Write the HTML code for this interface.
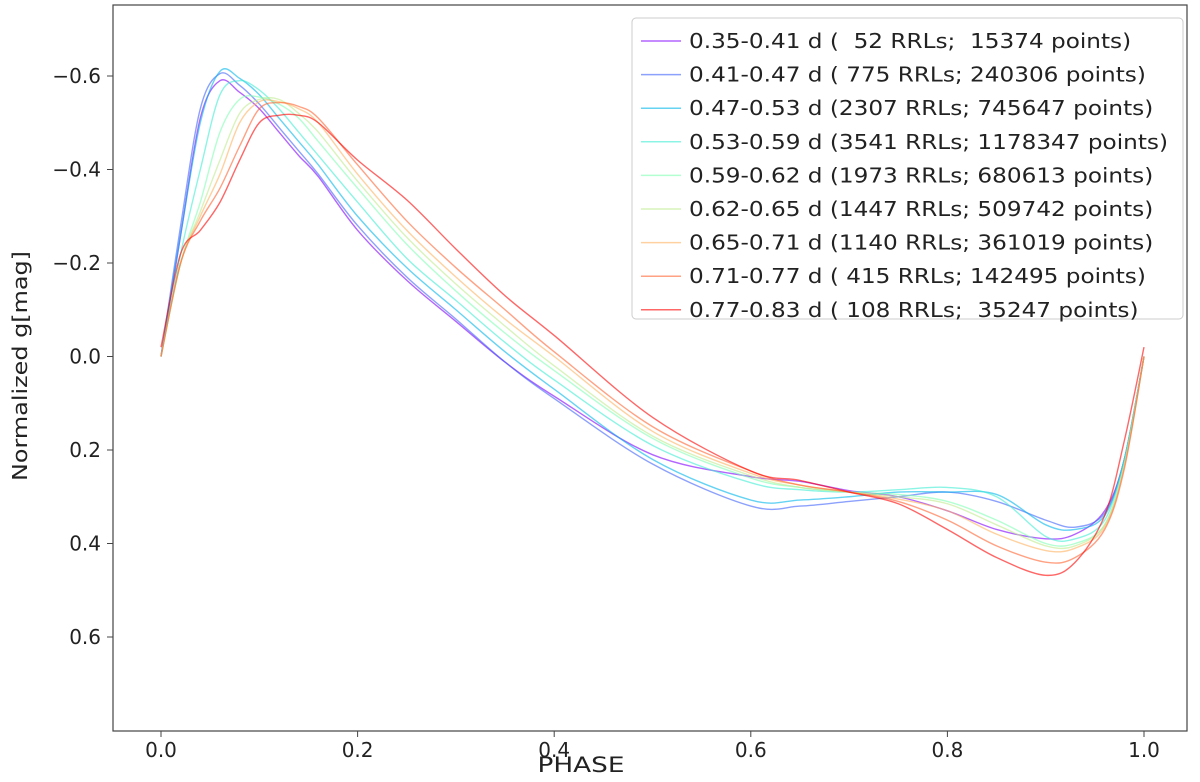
<!DOCTYPE html>
<html><head><meta charset="utf-8"><style>
body{margin:0;background:#fff;}
svg text{font-family:"DejaVu Sans","Liberation Sans",sans-serif;fill:#222;}
</style></head><body>
<svg id="chart" width="1200" height="777" xmlns="http://www.w3.org/2000/svg">
<rect x="113" y="5" width="1074" height="726" fill="#fff" stroke="#444" stroke-width="1.2"/>
<g id="ticks"></g><g id="lines"></g><g id="legend"></g>
<text x="581" y="772" font-size="21" text-anchor="middle" textLength="87" lengthAdjust="spacingAndGlyphs">PHASE</text>
<text transform="translate(27,366) rotate(-90)" font-size="20" text-anchor="middle" textLength="230" lengthAdjust="spacingAndGlyphs">Normalized g[mag]</text>
</svg>
<script>
const seriesLabels=["0.35-0.41 d (  52 RRLs;  15374 points)","0.41-0.47 d ( 775 RRLs; 240306 points)","0.47-0.53 d (2307 RRLs; 745647 points)","0.53-0.59 d (3541 RRLs; 1178347 points)","0.59-0.62 d (1973 RRLs; 680613 points)","0.62-0.65 d (1447 RRLs; 509742 points)","0.65-0.71 d (1140 RRLs; 361019 points)","0.71-0.77 d ( 415 RRLs; 142495 points)","0.77-0.83 d ( 108 RRLs;  35247 points)"];
const seriesColors=["#8000ff","#4062fa","#00b5eb","#40ecd4","#80ffb4","#c0eb8d","#ffb360","#ff6230","#ff0000"];
const phases=[0,0.02,0.04,0.06,0.08,0.1,0.12,0.14,0.16,0.2,0.25,0.3,0.35,0.4,0.5,0.6,0.65,0.7,0.75,0.8,0.85,0.9,0.93,0.96,0.98,1.0];
const s0=[0,-0.26,-0.51,-0.59,-0.565,-0.53,-0.48,-0.43,-0.385,-0.27,-0.163,-0.075,0.012,0.085,0.21,0.257,0.267,0.287,0.3,0.33,0.37,0.39,0.38,0.33,0.22,0];
const s1=[0,-0.28,-0.53,-0.605,-0.58,-0.54,-0.49,-0.44,-0.39,-0.28,-0.17,-0.08,0.012,0.09,0.23,0.32,0.32,0.31,0.3,0.29,0.31,0.35,0.365,0.335,0.22,0];
const s2=[0,-0.26,-0.5,-0.61,-0.595,-0.56,-0.51,-0.46,-0.41,-0.3,-0.19,-0.1,-0.01,0.07,0.22,0.307,0.307,0.3,0.29,0.29,0.295,0.36,0.37,0.34,0.22,0];
const s3=[0,-0.22,-0.4,-0.56,-0.59,-0.57,-0.53,-0.48,-0.43,-0.33,-0.21,-0.12,-0.03,0.05,0.19,0.27,0.285,0.29,0.285,0.28,0.3,0.385,0.39,0.35,0.22,0];
const s4=[0,-0.2,-0.33,-0.48,-0.55,-0.555,-0.54,-0.51,-0.46,-0.36,-0.24,-0.14,-0.05,0.03,0.175,0.26,0.28,0.29,0.295,0.31,0.35,0.4,0.4,0.36,0.23,0];
const s5=[0,-0.2,-0.31,-0.42,-0.52,-0.55,-0.55,-0.52,-0.48,-0.375,-0.255,-0.155,-0.065,0.02,0.17,0.255,0.28,0.29,0.3,0.315,0.36,0.405,0.405,0.36,0.23,0];
const s6=[0,-0.2,-0.3,-0.39,-0.5,-0.545,-0.545,-0.53,-0.5,-0.39,-0.27,-0.17,-0.08,0.0,0.16,0.25,0.275,0.29,0.305,0.33,0.38,0.415,0.41,0.365,0.235,0];
const s7=[0,-0.2,-0.29,-0.36,-0.45,-0.53,-0.543,-0.535,-0.51,-0.41,-0.29,-0.19,-0.1,-0.01,0.15,0.245,0.275,0.29,0.31,0.35,0.405,0.44,0.43,0.37,0.24,0];
const s8=[-0.02,-0.22,-0.27,-0.33,-0.42,-0.5,-0.516,-0.516,-0.5,-0.42,-0.335,-0.23,-0.13,-0.045,0.13,0.245,0.265,0.29,0.315,0.37,0.43,0.468,0.44,0.34,0.18,-0.02];
const seriesValues=[s0,s1,s2,s3,s4,s5,s6,s7,s8];
const xTicks=[0,0.2,0.4,0.6,0.8,1.0];
const yTicks=[-0.6,-0.4,-0.2,0.0,0.2,0.4,0.6];
const NS="http://www.w3.org/2000/svg";
const X=v=>161+v*983, Y=v=>356.5+v*467.5;
function mk(t,a,p){const e=document.createElementNS(NS,t);for(const k in a)e.setAttribute(k,a[k]);p.appendChild(e);return e;}
const tg=document.getElementById('ticks');
xTicks.forEach(v=>{const x=X(v);
 const l=mk('line',{x1:x,x2:x,y1:731,y2:737,stroke:'#444'},tg);
 
 
 const t=mk('text',{x:x,y:757,'font-size':20,'text-anchor':'middle'},tg);t.textContent=v.toFixed(1);
 
 });
yTicks.forEach(v=>{const y=Y(v);
 const l=mk('line',{x1:107,x2:113,y1:y,y2:y,stroke:'#444'},tg);
 
 
 const t=mk('text',{x:101,y:y+7,'font-size':20,'text-anchor':'end'},tg);t.textContent=(v<0?'\u2212':'')+Math.abs(v).toFixed(1);
 
 });
function smooth(pts){let d='M'+pts[0][0]+','+pts[0][1];
 for(let i=0;i<pts.length-1;i++){const p0=pts[Math.max(0,i-1)],p1=pts[i],p2=pts[i+1],p3=pts[Math.min(pts.length-1,i+2)];
 d+=' C'+(p1[0]+(p2[0]-p0[0])/6)+','+(p1[1]+(p2[1]-p0[1])/6)+' '+(p2[0]-(p3[0]-p1[0])/6)+','+(p2[1]-(p3[1]-p1[1])/6)+' '+p2[0]+','+p2[1];}
 return d;}
const lg=document.getElementById('lines');
seriesValues.forEach((vals,i)=>{
 const p=mk('path',{d:smooth(vals.map((v,j)=>[X(phases[j]),Y(v)])),fill:'none',stroke:seriesColors[i],'stroke-width':1.4,'stroke-opacity':0.6},lg);
 
 });
const leg=document.getElementById('legend');
const box=mk('rect',{x:632,y:18,width:551,height:301,rx:4,fill:'#fff',stroke:'#ccc'},leg);


const texts=[];
seriesLabels.forEach((s,i)=>{const y=41+i*33.6;
 const l=mk('line',{x1:641,x2:681,y1:y,y2:y,stroke:seriesColors[i],'stroke-width':1.5,'stroke-opacity':0.6},leg);
 
 
 const t=mk('text',{x:689,y:y+7,'font-size':20.5},leg);t.textContent=s;t.style.whiteSpace='pre';
 
 
 texts.push(t);});
const lens=texts.map(t=>t.getComputedTextLength());
const k=479/Math.max(...lens);
texts.forEach((t,i)=>{t.setAttribute('textLength',lens[i]*k);t.setAttribute('lengthAdjust','spacingAndGlyphs');});
</script>
</body></html>
